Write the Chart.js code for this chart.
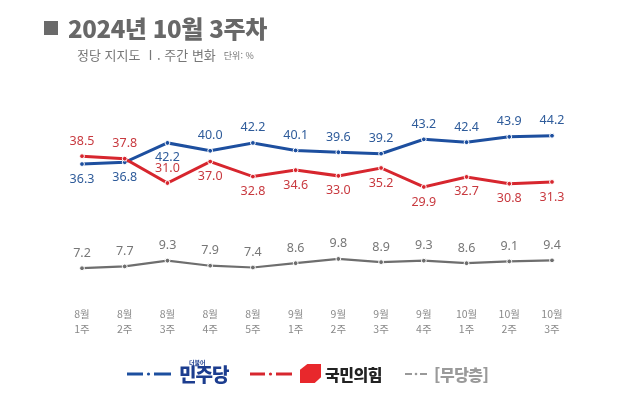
<!DOCTYPE html>
<html lang="ko">
<head>
<meta charset="utf-8">
<script src="https://cdn.jsdelivr.net/npm/chart.js@4.4.1/dist/chart.umd.min.js"></script>
<style>
  body { margin: 0; background: #fff; font-family: "Noto Sans CJK KR", "Noto Sans", sans-serif; }
  #wrap { position: relative; width: 640px; height: 406px; overflow: hidden; }
  #chart-box { position: absolute; left: 0; top: 0; width: 640px; height: 406px; }
  .title { position: absolute; left: 44px; top: 13px; font-size: 24px; line-height: 30px; font-weight: 900; color: #686868; letter-spacing: -0.4px; white-space: nowrap; }
  .title .sq { display: inline-block; width: 14px; height: 14px; background: #6a6a6a; margin-right: 10px; vertical-align: 3px; }
  .sub { position: absolute; left: 77px; top: 47px; font-size: 13px; line-height: 16px; color: #777; white-space: nowrap; }
  .sub small { font-size: 9px; margin-left: 8px; vertical-align: 1px; }
  .legend { position: absolute; top: 360px; left: 0; width: 640px; height: 30px; }
  .legend > * { position: absolute; }
  .lg-text { font-weight: 800; line-height: 28px; top: 0; white-space: nowrap; }
</style>
</head>
<body>
<div id="wrap">
  <div id="chart-box"><canvas id="chart"></canvas></div>
  <div class="title"><span class="sq"></span>2024년 10월 3주차</div>
  <div class="sub">정당 지지도 Ⅰ. 주간 변화<small>단위: %</small></div>
  <div class="legend">
    <svg style="left:126px;top:7px" width="46" height="14"><line x1="1" y1="7" x2="17" y2="7" stroke="#1d4f9f" stroke-width="3"/><circle cx="22.5" cy="7" r="1.6" fill="#1d4f9f"/><line x1="28" y1="7" x2="45" y2="7" stroke="#1d4f9f" stroke-width="3"/></svg>
    <span style="left:189px;top:-1px;font-size:6px;line-height:8px;color:#1c3d8f;font-weight:700">더불어</span>
    <span class="lg-text" style="left:179px;font-size:19px;color:#1c3d8f;letter-spacing:-1px">민주당</span>
    <svg style="left:249px;top:7px" width="44" height="14"><line x1="1" y1="7" x2="16" y2="7" stroke="#d7262e" stroke-width="3"/><circle cx="21.5" cy="7" r="1.6" fill="#d7262e"/><line x1="27" y1="7" x2="43" y2="7" stroke="#d7262e" stroke-width="3"/></svg>
    <div style="left:300px;top:4px;width:21px;height:19px;background:#e8282c;clip-path:polygon(35% 0,100% 0,100% 70%,70% 100%,0 100%,0 30%)"></div>
    <span class="lg-text" style="left:325px;font-size:16px;color:#222;letter-spacing:-0.5px">국민의힘</span>
    <svg style="left:404px;top:7px" width="24" height="14"><line x1="1" y1="7" x2="8" y2="7" stroke="#999" stroke-width="2"/><circle cx="12" cy="7" r="1.3" fill="#999"/><line x1="16" y1="7" x2="23" y2="7" stroke="#999" stroke-width="2"/></svg>
    <span class="lg-text" style="left:434px;font-size:16px;color:#9a9a9a;letter-spacing:-0.5px">[무당층]</span>
  </div>
</div>
<script>
// ------------------ DATA ------------------
const weeks = [
    ['8월', '1주'], ['8월', '2주'], ['8월', '3주'], ['8월', '4주'], ['8월', '5주'],
    ['9월', '1주'], ['9월', '2주'], ['9월', '3주'], ['9월', '4주'],
    ['10월', '1주'], ['10월', '2주'], ['10월', '3주']
];
const democratic = [36.3, 36.8, 42.2, 40.0, 42.2, 40.1, 39.6, 39.2, 43.2, 42.4, 43.9, 44.2];
const peoplePower = [38.5, 37.8, 31.0, 37.0, 32.8, 34.6, 33.0, 35.2, 29.9, 32.7, 30.8, 31.3];
const independent = [7.2, 7.7, 9.3, 7.9, 7.4, 8.6, 9.8, 8.9, 9.3, 8.6, 9.1, 9.4];

// which side of the point each value label sits on (-1 above, 1 below)
const democraticSides = [1, 1, 1, -1, -1, -1, -1, -1, -1, -1, -1, -1];
const peoplePowerSides = [-1, -1, -1, 1, 1, 1, 1, 1, 1, 1, 1, 1];
const independentSides = [-1, -1, -1, -1, -1, -1, -1, -1, -1, -1, -1, -1];

// ------------------ COLORS ------------------
const BLUE = '#1d4f9f';
const RED = '#d7262e';
const GRAY = '#6e6e6e';

// Draws the number next to every point
const valueLabels = {
    id: 'valueLabels',
    afterDatasetsDraw(chart) {
        const ctx = chart.ctx;
        ctx.save();
        ctx.font = '12.5px "Noto Sans", sans-serif';
        ctx.textAlign = 'center';
        ctx.textBaseline = 'middle';
        chart.data.datasets.forEach((ds, i) => {
            const meta = chart.getDatasetMeta(i);
            ctx.fillStyle = ds.labelColor;
            meta.data.forEach((pt, j) => {
                ctx.fillText(ds.data[j].toFixed(1), pt.x, pt.y + ds.sides[j] * 15);
            });
        });
        ctx.restore();
    }
};

function series(data, color, sides, labelColor, width) {
    return {
        data: data,
        borderColor: color,
        borderWidth: width,
        pointRadius: 2.4,
        pointBackgroundColor: color,
        pointBorderColor: '#fff',
        pointBorderWidth: 1,
        tension: 0,
        sides: sides,
        labelColor: labelColor
    };
}

new Chart(document.getElementById('chart'), {
    type: 'line',
    data: {
        labels: weeks,
        datasets: [
            series(independent, GRAY, independentSides, '#777', 2.2),
            series(peoplePower, RED, peoplePowerSides, '#c8393f', 3),
            series(democratic, BLUE, democraticSides, '#2e5b9a', 3)
        ]
    },
    options: {
        responsive: true,
        maintainAspectRatio: false,
        animation: false,
        layout: { padding: { top: 115, bottom: 72, left: 82, right: 88 } },
        plugins: {
            legend: { display: false },
            tooltip: { enabled: false }
        },
        scales: {
            x: {
                offset: false,
                grid: { display: false, drawTicks: false },
                border: { display: false },
                ticks: {
                    color: '#8a8a8a',
                    font: { size: 10.5, family: '"Noto Sans CJK KR", sans-serif', lineHeight: 1.4 },
                    padding: 13,
                    maxRotation: 0,
                    autoSkip: false
                },
                afterFit: (s) => { s.height = 40; }
            },
            y: {
                display: false,
                min: 0,
                max: 50
            }
        }
    },
    plugins: [valueLabels]
});
</script>
</body>
</html>
